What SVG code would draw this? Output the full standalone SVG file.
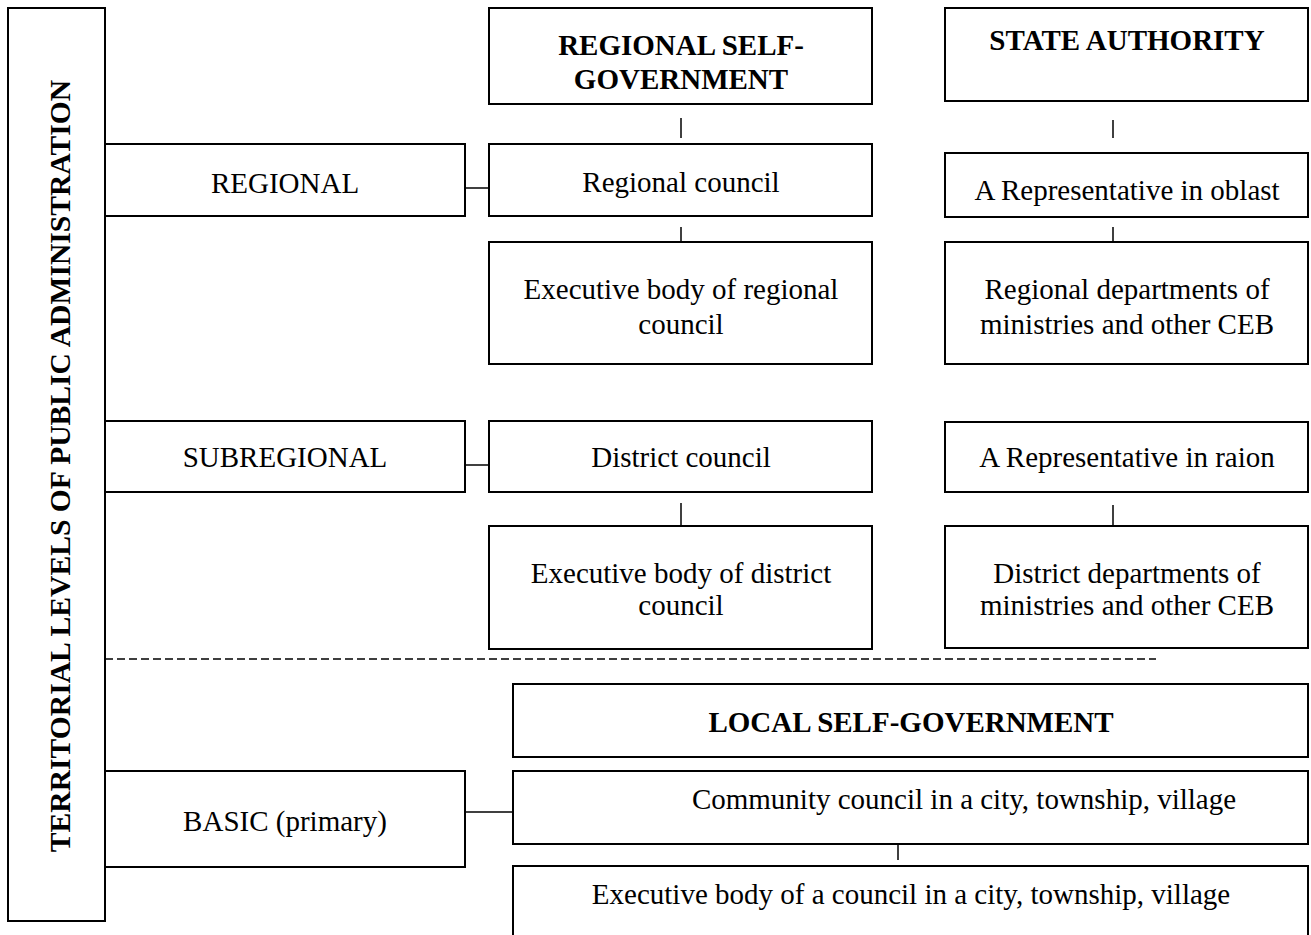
<svg xmlns="http://www.w3.org/2000/svg" width="1311" height="935" viewBox="0 0 1311 935">
<style>
.box{fill:#fff;stroke:#000;stroke-width:2}
.t{font-family:"Liberation Serif","Times New Roman",serif;font-size:29px;fill:#000;text-anchor:middle}
.b{font-weight:bold}
.v{font-size:29.6px}
.ln{stroke:#000;stroke-width:1.5;fill:none}
.dash{stroke:#000;stroke-width:1.5;stroke-dasharray:8 4;fill:none}
</style>
<rect width="1311" height="935" fill="#fff"/>
<g id="connectors">
<line class="ln" x1="681" y1="118" x2="681" y2="138"/>
<line class="ln" x1="1113" y1="120" x2="1113" y2="138"/>
<line class="ln" x1="465" y1="188" x2="489" y2="188"/>
<line class="ln" x1="681" y1="227" x2="681" y2="250"/>
<line class="ln" x1="1113" y1="227" x2="1113" y2="250"/>
<line class="ln" x1="465" y1="465" x2="489" y2="465"/>
<line class="ln" x1="681" y1="503" x2="681" y2="550"/>
<line class="ln" x1="1113" y1="505" x2="1113" y2="550"/>
<line class="ln" x1="465" y1="812" x2="513" y2="812"/>
<line class="ln" x1="898" y1="837" x2="898" y2="860"/>
<line class="dash" x1="105" y1="659" x2="1156" y2="659"/>
</g>
<g id="territorial-levels">
<rect class="box" x="8" y="8" width="97" height="913"/>
<text class="t b v" transform="translate(70,466) rotate(-90)">TERRITORIAL LEVELS OF PUBLIC ADMINISTRATION</text>
</g>
<g id="regional">
<rect class="box" x="105" y="144" width="360" height="72"/>
<text class="t" x="285" y="193">REGIONAL</text>
</g>
<g id="subregional">
<rect class="box" x="105" y="421" width="360" height="71"/>
<text class="t" x="285" y="467">SUBREGIONAL</text>
</g>
<g id="basic">
<rect class="box" x="105" y="771" width="360" height="96"/>
<text class="t" x="285" y="831">BASIC (primary)</text>
</g>
<g id="regional-self-government">
<rect class="box" x="489" y="8" width="383" height="96"/>
<text class="t b" x="681" y="55">REGIONAL SELF-</text>
<text class="t b" x="681" y="89">GOVERNMENT</text>
</g>
<g id="state-authority">
<rect class="box" x="945" y="8" width="363" height="93"/>
<text class="t b" x="1127" y="50">STATE AUTHORITY</text>
</g>
<g id="regional-council">
<rect class="box" x="489" y="144" width="383" height="72"/>
<text class="t" x="681" y="192">Regional council</text>
</g>
<g id="representative-oblast">
<rect class="box" x="945" y="153" width="363" height="64"/>
<text class="t" x="1127" y="200">A Representative in oblast</text>
</g>
<g id="exec-regional-council">
<rect class="box" x="489" y="242" width="383" height="122"/>
<text class="t" x="681" y="299">Executive body of regional</text>
<text class="t" x="681" y="334">council</text>
</g>
<g id="regional-departments">
<rect class="box" x="945" y="242" width="363" height="122"/>
<text class="t" x="1127" y="299">Regional departments of</text>
<text class="t" x="1127" y="334">ministries and other CEB</text>
</g>
<g id="district-council">
<rect class="box" x="489" y="421" width="383" height="71"/>
<text class="t" x="681" y="467">District council</text>
</g>
<g id="representative-raion">
<rect class="box" x="945" y="422" width="363" height="70"/>
<text class="t" x="1127" y="467">A Representative in raion</text>
</g>
<g id="exec-district-council">
<rect class="box" x="489" y="526" width="383" height="123"/>
<text class="t" x="681" y="583">Executive body of district</text>
<text class="t" x="681" y="615">council</text>
</g>
<g id="district-departments">
<rect class="box" x="945" y="526" width="363" height="122"/>
<text class="t" x="1127" y="583">District departments of</text>
<text class="t" x="1127" y="615">ministries and other CEB</text>
</g>
<g id="local-self-government">
<rect class="box" x="513" y="684" width="795" height="73"/>
<text class="t b" x="911" y="732">LOCAL SELF-GOVERNMENT</text>
</g>
<g id="community-council">
<rect class="box" x="513" y="771" width="795" height="73"/>
<text class="t" x="964" y="809">Community council in a city, township, village</text>
</g>
<g id="exec-community-council">
<rect class="box" x="513" y="866" width="795" height="90"/>
<text class="t" x="911" y="904">Executive body of a council in a city, township, village</text>
</g>
</svg>
